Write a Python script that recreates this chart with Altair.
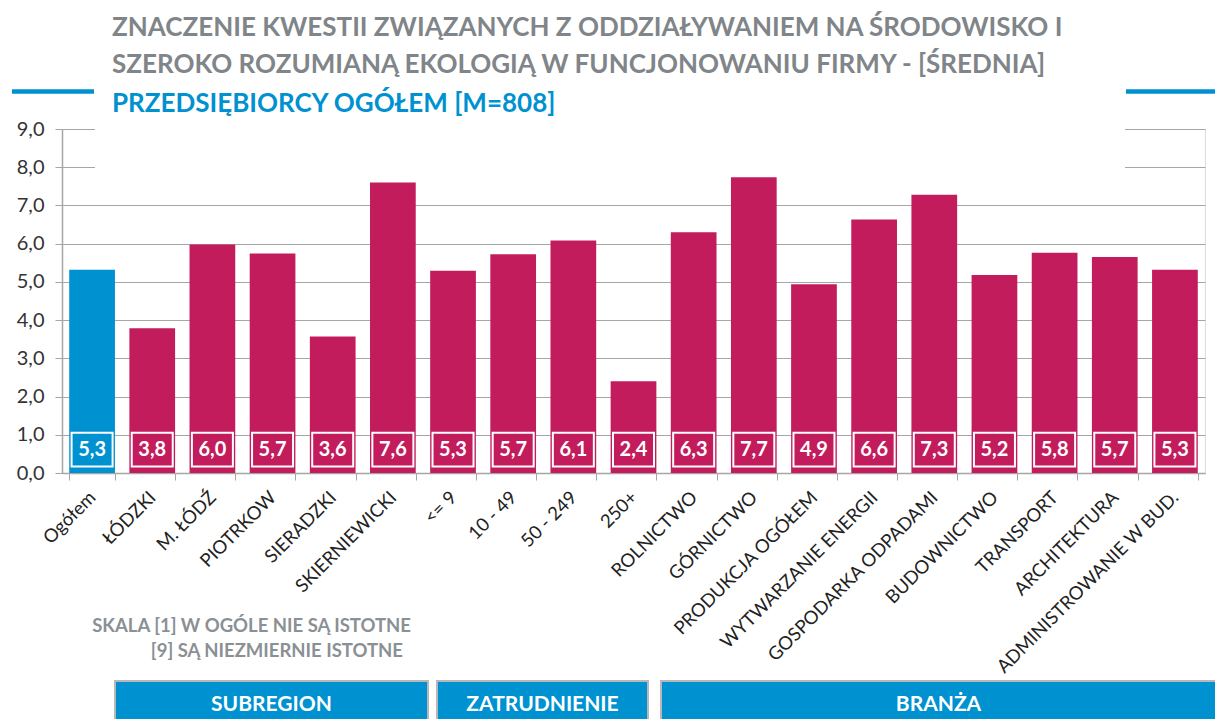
import altair as alt
import pandas as pd

categories = ["Ogółem", "ŁÓDZKI", "M. ŁÓDŹ", "PIOTRKOW", "SIERADZKI", "SKIERNIEWICKI",
              "<= 9", "10 - 49", "50 - 249", "250+",
              "ROLNICTWO", "GÓRNICTWO", "PRODUKCJA OGÓŁEM", "WYTWARZANIE ENERGII",
              "GOSPODARKA ODPADAMI", "BUDOWNICTWO", "TRANSPORT", "ARCHITEKTURA",
              "ADMINISTROWANIE W BUD."]
values = [5.32, 3.79, 5.98, 5.74, 3.57, 7.60, 5.29, 5.72, 6.08, 2.40,
          6.30, 7.74, 4.94, 6.63, 7.28, 5.18, 5.76, 5.65, 5.32]
labels = ["5,3", "3,8", "6,0", "5,7", "3,6", "7,6", "5,3", "5,7", "6,1", "2,4",
          "6,3", "7,7", "4,9", "6,6", "7,3", "5,2", "5,8", "5,7", "5,3"]
y_ticks = [0, 1, 2, 3, 4, 5, 6, 7, 8, 9]

title_lines = ["ZNACZENIE KWESTII ZWIĄZANYCH Z ODDZIAŁYWANIEM NA ŚRODOWISKO I",
               "SZEROKO ROZUMIANĄ EKOLOGIĄ W FUNCJONOWANIU FIRMY - [ŚREDNIA]"]
subtitle = "PRZEDSIĘBIORCY OGÓŁEM [M=808]"
note_lines = ["SKALA [1] W OGÓLE NIE SĄ ISTOTNE", "[9] SĄ NIEZMIERNIE ISTOTNE"]
groups = ["SUBREGION", "ZATRUDNIENIE", "BRANŻA"]

BLUE = "#0091D0"
RED = "#C31C5C"
GREY = "#7F8588"
FONT = "Lato"

df = pd.DataFrame({"cat": categories, "val": values, "lab": labels})

x_enc = alt.X("cat:N", sort=categories, title=None,
              scale=alt.Scale(paddingInner=0.24, paddingOuter=0.12),
              axis=alt.Axis(labelAngle=-45, labelAlign="right", labelBaseline="middle",
                            labelFontSize=18.5, labelColor="#222222", labelFont=FONT,
                            labelPadding=14, tickBand="extent", tickSize=7,
                            tickColor="#A6A6A6", domainColor="#A6A6A6", domainWidth=1.5,
                            grid=False, labelOverlap=False, labelLimit=400))
y_scale = alt.Scale(domain=[0, 9], nice=False)
y_axis = alt.Axis(values=y_ticks, labelExpr="replace(format(datum.value, '.1f'), '.', ',')",
                  labelFontSize=20, labelColor="#333333", labelFont=FONT,
                  labelOverlap=False, labelFlush=False, title=None,
                  tickSize=7, tickColor="#A6A6A6", domainColor="#A6A6A6", domainWidth=1.5,
                  gridColor="#A6A6A6", gridWidth=1, labelPadding=11)
color_cond = alt.condition(alt.datum.cat == "Ogółem", alt.value(BLUE), alt.value(RED))

base = alt.Chart(df).transform_calculate(lo="0.17", hi="1.05", mid="0.6")

# white cover behind the title (hides top gridlines)
cover = alt.Chart(pd.DataFrame({"a": [0]})).mark_rect(fill="white").encode(
    x=alt.value(33), x2=alt.value(1063), y=alt.value(-130), y2=alt.value(44))

bars = base.mark_bar().encode(
    x=x_enc,
    y=alt.Y("val:Q", scale=y_scale, title=None, axis=y_axis),
    color=color_cond,
)

boxes = base.mark_bar(size=41, stroke="white", strokeWidth=2).encode(
    x=alt.X("cat:N", sort=categories),
    y=alt.Y("lo:Q", scale=y_scale, title=None, axis=y_axis), y2="hi:Q",
    color=color_cond,
)

texts = base.mark_text(color="white", fontWeight="bold", fontSize=20, font=FONT,
                       baseline="middle").encode(
    x=alt.X("cat:N", sort=categories),
    y=alt.Y("mid:Q", scale=y_scale, title=None, axis=y_axis),
    text="lab:N",
)

def txt(s, x, y, size, color, align="left", weight="bold"):
    return alt.Chart(pd.DataFrame({"t": [s]})).mark_text(
        align=align, baseline="alphabetic", fontSize=size, fontWeight=weight,
        font=FONT, color=color).encode(x=alt.value(x), y=alt.value(y), text="t:N")

t1 = txt(title_lines[0], 50, -93, 26, GREY)
t2 = txt(title_lines[1], 50, -56, 26, GREY)
t3 = txt(subtitle, 50, -17, 26, BLUE)

line_l = alt.Chart(pd.DataFrame({"a": [0]})).mark_rule(color=BLUE, strokeWidth=4.5).encode(
    x=alt.value(-50), x2=alt.value(32), y=alt.value(-37.5))
line_r = alt.Chart(pd.DataFrame({"a": [0]})).mark_rule(color=BLUE, strokeWidth=4.5).encode(
    x=alt.value(1064), x2=alt.value(1160), y=alt.value(-37.5))

n1 = txt(note_lines[0], 349, 503, 18.5, "#8A9094", align="right")
n2 = txt(note_lines[1], 341, 528, 18.5, "#8A9094", align="right")

def header(label, x0, x1):
    box = alt.Chart(pd.DataFrame({"a": [0]})).mark_rect(
        fill=BLUE, stroke="#B8B8B8", strokeWidth=2).encode(
        x=alt.value(x0), x2=alt.value(x1), y=alt.value(552), y2=alt.value(610))
    t = alt.Chart(pd.DataFrame({"t": [label]})).mark_text(
        align="center", baseline="middle", fontSize=21, fontWeight="bold",
        font=FONT, color="white").encode(
        x=alt.value((x0 + x1) / 2), y=alt.value(576), text="t:N")
    return [box, t]

hdrs = header(groups[0], 53, 366) + header(groups[1], 375, 586) + header(groups[2], 599, 1154)

chart = alt.layer(cover, bars, boxes, texts, t1, t2, t3, line_l, line_r, n1, n2, *hdrs).properties(
    width=1143, height=344,
    autosize=alt.AutoSizeParams(type="none"),
    padding={"left": 54, "top": 121, "right": 10, "bottom": 246},
).configure_view(stroke=None).configure(background="white")

chart.save("out.html", embed_options={"renderer": "svg", "actions": False})
